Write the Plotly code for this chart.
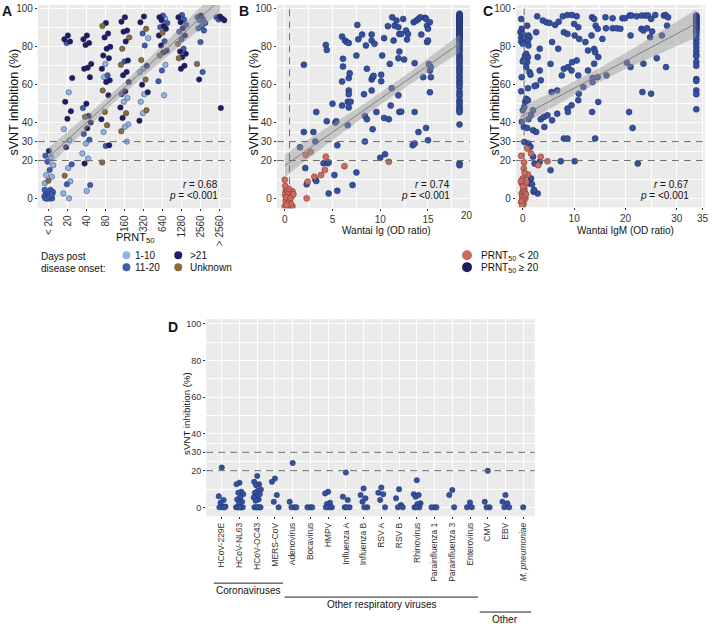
import numpy as np
import plotly.graph_objects as go

W, H = 712, 624

# ---------------- Panel A data ----------------
a_categories = ["< 20", "20", "40", "80", "160", "320", "640", "1280", "2560", "> 2560"]
a_values = [
    [25, 22.5, 21.6, 19.3, 17.5, 15, 12.3, 11.4, 9.3, 8, 4.5, 4, 3.5, 3, 2.5, 2, 1.5, 1, 0.5,
     0, 0, 0, 0, 0, 0, 3, 1, 0, 2, 0, 4.5, 0],
    [86, 84, 82.8, 82, 63.5, 56, 51, 46, 42, 36.5, 30.7, 27, 18, 16, 12, 9, 7.4, 2.6, 0],
    [86, 84, 82, 81, 71, 69, 68.4, 64, 50, 47.7, 43.5, 43, 40, 37, 34, 31, 29, 23.7, 21, 18.4, 7, 3.9],
    [92.6, 91, 87, 85, 80, 79, 75.4, 74, 71, 68.4, 65, 64, 62.3, 61.4, 57, 54.4, 45.6, 41.8, 38.6,
     35, 28, 27.7, 19],
    [95.6, 93.3, 88.6, 88, 85, 82.8, 79, 72.8, 72.3, 70.5, 66.7, 65, 61.4, 56.5, 55, 53, 51, 48, 45,
     42.5, 39, 37.7, 35.4, 30],
    [96, 93, 89.5, 87, 84.6, 80.7, 73, 70, 68.4, 66.7, 62.8, 60, 56, 55, 51, 46.5, 45, 41],
    [96.5, 95.6, 95, 94, 92.6, 91, 90.4, 89.5, 87.4, 86, 83, 80.7, 78, 77, 75.4, 70.5, 67.5, 61.8, 54.4],
    [96.8, 95.6, 94.4, 93, 91.6, 89.8, 88, 86, 84, 81.6, 79, 77.5, 76.3, 74.6, 74, 70, 68.4],
    [96.5, 95.6, 94.7, 94, 92.6, 91, 89.8, 88.6, 82.5, 71, 66.7, 62.8],
    [96, 95.6, 95, 94.4, 94, 47.7],
]
# L = 1-10, M = 11-20, N = >21, U = Unknown
a_groups = [
    "NMLMLMLLULMLMLMLMMLMMLMLMLMLMLML",
    "NNNMNLNNNLLNMLULMLL",
    "NNNNNNNNNMNUNNMMLLLNML",
    "NUNNNNNNLNMLNNUNUNULNMU",
    "NNNNUNUNMUNNNNMLLNUNLLUL",
    "NNUMLMUNLLUNNLLULN",
    "MNLNMNMNUNMNNNULMML",
    "MNMNMNMNMUMNNNUNN",
    "NMMMMMMMMUMN",
    "NMNMNN",
]
a_group_names = {"L": "1-10", "M": "11-20", "N": ">21", "U": "Unknown"}
a_group_colors = {"L": "#8DB6E8", "M": "#3D5EB2", "N": "#1F1C66", "U": "#8C6B3D"}

# ---------------- Panel B data ----------------
b_red_x = [0, 0.1, 0.5, 0.8, 0.05, 0.3, 0.6, 0.1, 0.5, 0, 0.8, 2.3, 2.2, 2.7, 2.4, 3.1, 3.8, 4.2,
           4.3, 6.25, 10.9, 0.2, 0.4, 0.7, 0.15, 0.35, 0.65, 0.2, 0.45, 0.6, 0.05, 0.9]
b_red_y = [9.8, 3.7, 3.7, 3.7, 1.9, 1.0, 1.9, -1.2, -1.0, -4.2, -4.2, 0, 22.8, 24.6, 8.8, 11.4,
           12.3, 15, 22, 17, 19.3, 4.5, 2.5, 1, 0.5, -2.5, -3, -3.5, 5, 0.2, 6.5, 2.2]
b_blue_x = [0.5, 0.5, 2.0, 2.0, 1.6, 2.15, 2.3, 3.0, 3.2, 3.3, 3.2, 3.3, 4.3, 4.4, 4.4, 4.06, 4.5,
            4.6, 4.6, 5.0, 5.3, 5.4, 5.5, 5.2, 5.5, 6.0, 6.0, 6.1, 6.1, 6.0, 6.3, 6.5, 6.7, 6.7,
            6.7, 6.7, 6.7, 6.6, 6.6, 6.9, 6.8, 7.1, 7.5, 7.6, 7.5, 7.7, 8.1, 8.3, 8.5, 8.6, 8.4,
            8.6, 8.4, 9.1, 9.1, 9.4, 9.1, 9.2, 9.3, 9.1, 9.2, 9.6, 10.1, 10.1, 10.2, 10.4, 10.4,
            10.0, 10.5, 10.8, 10.9, 11.0, 11.1, 11.2, 11.25, 11.4, 11.5, 11.7, 11.9, 11.9, 12.0,
            12.0, 12.2, 11.9, 12.0, 12.2, 12.4, 12.5, 12.7, 12.9, 12.8, 13.4, 13.6, 13.6, 13.6,
            13.5, 13.8, 14.0, 14.0, 14.2, 14.3, 14.7, 14.5, 14.8, 14.9, 15.0, 15.0, 15.1, 15.2,
            15.2, 14.8, 14.9, 15.2, 15.0, 15.3, 15.3]
b_blue_y = [-4.5, -1, 70.5, 35, 27, 16, 7.4, 35, 30, 45.6, 10, 9.2, 81, 78.4, 40.7, 18.6, 18.6,
            19, 2.6, 50, 40, 40.7, 28, 12.3, 4, 49, 61.7, 69.6, 73.7, 85.4, 83.3, 82.5, 82, 63.5,
            57, 55, 48, 51, 38.6, 51, 66, 7, 13.7, 91.6, 75.4, 84, 86.5, 55, 80.7, 68.4, 43.5,
            41.8, 30, 86.5, 83.3, 81.6, 62.8, 64, 64.7, 57, 36.5, 45.6, 61.8, 65.3, 75.4, 84.6,
            42.5, 21.4, 23.3, 90.9, 41.8, 71, 49, 58.2, 95.6, 83.3, 91.2, 93.9, 90.4, 74, 77.5,
            86.8, 86.8, 54.4, 45.6, 45.8, 94.7, 73.3, 88.6, 86.8, 83.9, 28, 29, 71.4, 45.6, 93,
            93.9, 35, 94.7, 95.6, 86.5, 95.3, 64, 37.2, 82.5, 30.7, 83.3, 71, 67.5, 56, 94.7,
            91.2, 93, 89.5, 69.3, 64]
b_cap_x = 18.3
b_cap_y = [97.5, 97, 96.5, 96, 95.5, 95, 94.5, 94, 93.5, 93, 92.5, 92, 91.5, 91, 90.5, 90, 89.5,
           89, 88.5, 88, 87.5, 87, 86.5, 86, 85.5, 85, 84.5, 84, 83, 82, 81, 80, 79, 78, 77, 75.5,
           74.5, 73.5, 72.5, 71.5, 70, 69, 68, 67, 66, 64.5, 63.5, 62, 61, 60, 58.5, 56.5, 55,
           54, 52, 51, 50, 48.5, 47.5, 46.5, 45.5, 39, 18.5, 17.5]

# ---------------- Panel C data ----------------
c_red_x = [-0.3, 0.2, 0, -0.2, 0.3, 0.1, -0.2, 0.4, 0, 0.2, -0.3, 0.5, 0.85, 1.6, 3.0, 0.8, 1.0,
           3.5, 4.8, 0.1, -0.1, 0.3, 0.15, -0.2, 0.4, 0.05, -0.35, 0.35, 0.6, -0.1, 0.25, 0.7]
c_red_y = [22.5, 15.8, 10.5, 7.9, 5.3, 3.9, 2.6, 1.8, 0.4, -1, -2, 0, 26.3, 23.7, 17.5, 12.3,
           12.6, 22, 19.6, 4.5, 1, 0.8, -3, -1.5, 3.2, 6.2, 9.2, 13.5, 2.1, -4, 19, 8.5]
c_blue_x = [-0.3, -0.2, -0.45, 0, -0.3, 0.2, -0.3, 0, 0.45, 0.2, 0, -0.2, -0.3, 0.45, 0, 0.3,
            -0.2, 0.2, 0.3, 0, 0.85, 1.1, 1.3, 1.0, 1.1, 0.65, 1.0, 0.85, 0.65, 1.3, 1.5, 1.0,
            0.65, 1.0, 1.6, 1.1, 0.85, 1.1, 1.5, 2.0, 2.3, 1.6, 1.3, 1.8, 2.1, 2.9, 2.8, 3.9, 4.6,
            2.6, 3.3, 2.9, 5.4, 3.3, 3.5, 2.6, 2.3, 2.0, 3.5, 4.1, 4.8, 4.2, 2.0, 2.6, 3.3, 5.4,
            2.2, 5.2, 6.3, 7.0, 7.8, 8.7, 8.0, 8.7, 5.7, 6.9, 5.6, 6.7, 6.7, 5.7, 8.0, 7.6, 8.7,
            8.0, 8.7, 7.4, 8.8, 9.6, 9.6, 10.5, 10.0, 10.8, 10.1, 11.0, 10.5, 9.5, 10.8, 10.9,
            10.8, 8.8, 9.5, 10.1, 13.5, 13.9, 14.2, 14.6, 13.4, 12.2, 12.7, 13.9, 14.1, 14.7,
            13.9, 12.7, 13.6, 13.6, 14.6, 11.8, 14.7, 13.5, 14.1, 16.1, 17.5, 19.4, 19.9, 20.8,
            21.2, 22.2, 23.2, 16.2, 17.5, 18.3, 19.0, 15.5, 21.0, 16.3, 20.3, 21.0, 20.7, 21.4,
            22.4, 23.9, 24.4, 25.8, 27.5, 27.8, 28.3, 25.0, 23.1, 23.5, 24.2, 25.2, 24.8, 27.1,
            28.1, 23.5, 26.1, 23.3, 25.0, 27.9]
c_blue_y = [94.7, 89.5, 87.7, 86.8, 85, 84.2, 82.8, 81.6, 75.4, 73.3, 72.3, 64, 56.5, 51, 46.5,
            48.2, 40.4, 37.7, 29.8, 0, 91.2, 86, 85, 83.3, 80.7, 76.3, 74.6, 72, 69.3, 66.7, 65.3,
            58.2, 52.6, 51.8, 43.9, 41.8, 37.2, 29, 27.2, 22, 18.4, 10.5, 7.9, 7.4, 3.5, 2.6,
            96.1, 93.9, 93, 87.7, 79, 74.6, 71, 67.5, 62.3, 59.6, 59.3, 46.5, 41.8, 43, 43.9,
            37.7, 36, 35.1, 19.3, 14.9, 4.4, 92.6, 91.6, 93.3, 96.1, 96.8, 87.7, 86.8, 82.5, 79,
            56.1, 57, 44.7, 41.2, 68.4, 64.9, 47.4, 31.6, 31.6, 19.6, 69.3, 71.9, 96.8, 96.1,
            92.1, 90.4, 86, 84.2, 72.8, 67.5, 64.9, 55.3, 51.8, 45.6, 49.1, 19.6, 95.6, 94.7,
            91.2, 89.5, 86, 82.5, 78.1, 78.9, 77.2, 74.6, 71.1, 67.5, 63.5, 61.4, 64, 58.8, 50.9,
            45.6, 31.6, 95.6, 95.1, 95.1, 95.1, 96.5, 96.5, 96.1, 96.5, 89.8, 89.8, 89.8, 89.5,
            84.2, 86, 64.9, 71.6, 69.3, 45.6, 37.2, 18.4, 96.5, 96.5, 96.8, 96.5, 96.8, 95.6,
            94.7, 89.5, 88.6, 89.8, 88.1, 85.1, 86, 91.2, 71.1, 74, 56.1, 55.3, 69.3]
c_cap_x = 33.8
c_cap_y = [96.5, 96, 95.5, 95, 94.5, 94, 93.5, 93, 92.5, 92, 91.5, 91, 90.5, 90, 89.5, 89, 88,
           87, 86, 84, 82, 80, 78, 76, 75, 72, 70, 63, 62, 57, 55, 47]

# ---------------- Panel D data ----------------
d_categories = ["HCoV-229E", "HCoV-NL63", "HCoV-OC43", "MERS-CoV", "Adenovirus", "Bocavirus",
                "HMPV", "Influenza A", "Influenza B", "RSV A", "RSV B", "Rhinovirus",
                "Parainfluenza 1", "Parainfluenza 3", "Enterovirus", "CMV", "EBV",
                "<i>M. pneumoniae</i>"]
d_values = [
    [21.7, 6.1, 4.0, 2.5, 0.4, 0, 0, 0],
    [13.4, 12.6, 8.5, 8.0, 7.2, 5.4, 4.3, 3.0, 1.8, 0, 0, 0, 0, 0],
    [17.1, 13.9, 12.6, 12.1, 9.7, 9.0, 8.0, 7.2, 6.1, 5.4, 4.3, 3.6, 0, 0, 0, 0, 0],
    [15.7, 13.9, 6.7, 3.0, 0],
    [24.2, 3.0, 0, 0, 0],
    [0, 0, 0],
    [8.5, 7.6, 2.5, 1.8, 0, 0, 0],
    [19.0, 5.8, 4.0, 0, 0, 0],
    [10.3, 6.7, 4.9, 3.0, 0, 0],
    [10.8, 8.0, 7.2, 4.0, 0],
    [9.9, 4.9, 1.3, 0, 0],
    [14.8, 7.2, 6.7, 5.8, 2.2, 1.8, 0, 0, 0],
    [0, 0, 0],
    [9.4, 6.7, 0],
    [2.7, 0, 0],
    [19.9, 3.0, 0, 0],
    [6.7, 3.0, 2.2, 0, 0],
    [0],
]
d_groups = [("Coronaviruses", 0, 3), ("Other respiratory viruses", 4, 14), ("Other", 15, 17)]

stats_text = [("0.68", "<0.001"), ("0.74", "<0.001"), ("0.67", "<0.001")]

RED = "#CF6A5E"
BLUE = "#3450A0"
NAVY = "#1F1C66"
BG = "#EBEBEB"
TXT = "#333333"
FONT = "Liberation Sans, Arial, sans-serif"


# ---------------- helpers ----------------
def fx(p):
    return p / W


def fy(p):
    return 1 - p / H


def jitter(n, w):
    return [((k * 0.618034 + 0.5) % 1 - 0.5) * 2 * w for k in range(n)]


def lm_band(x, y, xs):
    x = np.asarray(x, float)
    y = np.asarray(y, float)
    n = len(x)
    b, a = np.polyfit(x, y, 1)
    res = y - (a + b * x)
    s = np.sqrt(np.sum(res ** 2) / (n - 2))
    sxx = np.sum((x - x.mean()) ** 2)
    se = s * np.sqrt(1 / n + (xs - x.mean()) ** 2 / sxx)
    yh = a + b * xs
    return yh, yh - 1.97 * se, yh + 1.97 * se


def add_fit(fig, x, y, xa, ya):
    xs = np.linspace(min(x), max(x), 120)
    yh, lo, hi = lm_band(x, y, xs)
    fig.add_trace(go.Scatter(x=np.concatenate([xs, xs[::-1]]), y=np.concatenate([hi, lo[::-1]]),
                             fill="toself", fillcolor="rgba(150,150,150,0.45)", line=dict(width=0),
                             mode="lines", hoverinfo="skip", showlegend=False, xaxis=xa, yaxis=ya))
    fig.add_trace(go.Scatter(x=xs, y=yh, mode="lines", line=dict(color="#808080", width=1),
                             hoverinfo="skip", showlegend=False, xaxis=xa, yaxis=ya))


fig = go.Figure()

# ---- Panel A points ----
ax_x, ax_y = [], []
for gkey in "LMNU":
    xs, ys = [], []
    for i, (vals, grp) in enumerate(zip(a_values, a_groups)):
        offs = jitter(len(vals), 0.24)
        for v, g, o in zip(vals, grp, offs):
            if g == gkey:
                xs.append(i + o)
                ys.append(v)
    fig.add_trace(go.Scatter(x=xs, y=ys, mode="markers", name=a_group_names[gkey],
                             marker=dict(size=5.5, color=a_group_colors[gkey],
                                         line=dict(width=0.4, color="#222244")),
                             showlegend=False, xaxis="x", yaxis="y"))
for i, vals in enumerate(a_values):
    ax_x += [i] * len(vals)
    ax_y += vals
add_fit(fig, ax_x, ax_y, "x", "y")

# ---- Panel B points ----
bx_blue = b_blue_x + [b_cap_x] * len(b_cap_y)
by_blue = b_blue_y + b_cap_y
fig.add_trace(go.Scatter(x=bx_blue, y=by_blue, mode="markers",
                         marker=dict(size=6, color=BLUE, line=dict(width=0.5, color="#1a2a60")),
                         showlegend=False, xaxis="x2", yaxis="y2"))
fig.add_trace(go.Scatter(x=b_red_x, y=b_red_y, mode="markers",
                         marker=dict(size=6, color=RED, line=dict(width=0.5, color="#7a3028")),
                         showlegend=False, xaxis="x2", yaxis="y2"))
add_fit(fig, b_red_x + bx_blue, b_red_y + by_blue, "x2", "y2")

# ---- Panel C points ----
cx_blue = c_blue_x + [c_cap_x] * len(c_cap_y)
cy_blue = c_blue_y + c_cap_y
fig.add_trace(go.Scatter(x=cx_blue, y=cy_blue, mode="markers",
                         marker=dict(size=6, color=BLUE, line=dict(width=0.5, color="#1a2a60")),
                         showlegend=False, xaxis="x3", yaxis="y3"))
fig.add_trace(go.Scatter(x=c_red_x, y=c_red_y, mode="markers",
                         marker=dict(size=6, color=RED, line=dict(width=0.5, color="#7a3028")),
                         showlegend=False, xaxis="x3", yaxis="y3"))
add_fit(fig, c_red_x + cx_blue, c_red_y + cy_blue, "x3", "y3")

# ---- Panel D points ----
dx, dy = [], []
for i, vals in enumerate(d_values):
    for v, o in zip(vals, jitter(len(vals), 0.22)):
        dx.append(i + o)
        dy.append(v)
fig.add_trace(go.Scatter(x=dx, y=dy, mode="markers",
                         marker=dict(size=5.5, color=BLUE, line=dict(width=0.4, color="#1a2a60")),
                         showlegend=False, xaxis="x4", yaxis="y4"))

# ---------------- axes ----------------
yt = [0, 20, 30, 40, 60, 80, 100]
ymin = [10, 25, 35, 50, 70, 90]


def yaxis(dom, rng, anchor, size=10):
    return dict(domain=dom, range=rng, anchor=anchor, tickmode="array", tickvals=yt,
                ticks="outside", ticklen=2, tickcolor=TXT, tickwidth=0.8,
                tickfont=dict(size=size, color=TXT, family=FONT), showgrid=True,
                gridcolor="white", gridwidth=1, zeroline=False, showline=False,
                minor=dict(tickmode="array", tickvals=ymin, showgrid=True, gridcolor="white",
                           gridwidth=0.5, ticks=""))


def xaxis(dom, rng, anchor, tickvals, ticktext=None, angle=0, size=10, minor=None):
    d = dict(domain=dom, range=rng, anchor=anchor, tickmode="array", tickvals=tickvals,
             ticks="outside", ticklen=2, tickcolor=TXT, tickwidth=0.8, tickangle=angle,
             tickfont=dict(size=size, color=TXT, family=FONT), showgrid=True,
             gridcolor="white", gridwidth=1, zeroline=False, showline=False)
    if ticktext is not None:
        d["ticktext"] = ticktext
    if minor is not None:
        d["minor"] = dict(tickmode="array", tickvals=minor, showgrid=True, gridcolor="white",
                          gridwidth=0.5, ticks="")
    return d


yABC = [fy(207), fy(3)]
fig.update_layout(
    xaxis=xaxis([fx(38), fx(232)], [-0.58, 9.58], "y", list(range(10)), a_categories, angle=-90),
    yaxis=yaxis(yABC, [-5.26, 102.1], "x"),
    xaxis2=xaxis([fx(278), fx(472)], [-0.83, 19.4], "y2", [0, 5, 10, 15],
                 minor=[2.5, 7.5, 12.5, 17.5]),
    yaxis2=yaxis(yABC, [-5.26, 102.1], "x2"),
    xaxis3=xaxis([fx(518), fx(708)], [-1.36, 35.5], "y3", [0, 10, 20, 30, 35],
                 minor=[5, 15, 25]),
    yaxis3=yaxis([fy(206), fy(3)], [-4.74, 102.1], "x3"),
    xaxis4=xaxis([fx(207), fx(537)], [-0.88, 17.65], "y4", list(range(18)), d_categories,
                 angle=-90, size=8.5),
    yaxis4=yaxis([fy(516), fy(318)], [-4.9, 102.7], "x4", size=9),
)

shapes = []
for xa, ya in [("x", "y"), ("x2", "y2"), ("x3", "y3"), ("x4", "y4")]:
    shapes.append(dict(type="rect", xref=xa + " domain", yref=ya + " domain", x0=0, x1=1, y0=0,
                       y1=1, fillcolor=BG, line=dict(width=0), layer="below"))
    for yv in (20, 30):
        shapes.append(dict(type="line", xref=xa + " domain", yref=ya, x0=0, x1=1, y0=yv, y1=yv,
                           line=dict(color="#6E6E6E", width=1, dash="7px,5px")))
for xa, ya, xv in [("x2", "y2", 0.5), ("x3", "y3", 0.25)]:
    shapes.append(dict(type="line", xref=xa, yref=ya + " domain", x0=xv, x1=xv, y0=0, y1=1,
                       line=dict(color="#6E6E6E", width=1, dash="7px,5px")))

annotations = []


def text(x, y, s, size=10, xanchor="center", yanchor="middle", angle=0, color="#111111",
         bold=False):
    if bold:
        s = "<b>" + s + "</b>"
    annotations.append(dict(x=fx(x), y=fy(y), xref="paper", yref="paper", text=s,
                            showarrow=False, xanchor=xanchor, yanchor=yanchor, textangle=angle,
                            font=dict(size=size, color=color, family=FONT)))


# panel letters
text(7, 9, "A", 14, bold=True)
text(245, 9, "B", 14, bold=True)
text(490, 9, "C", 14, bold=True)
text(174, 326, "D", 14, bold=True)

# axis titles
for xp in (14, 255, 497):
    text(xp, 100, "sVNT inhibition (%)", 12.5, angle=-90)
text(187, 413, "sVNT inhibition (%)", 9.7, angle=-90)
text(136, 237, "PRNT<sub>50</sub>", 11)
text(388, 229, "Wantai Ig (OD ratio)", 10)
text(628, 229, "Wantai IgM (OD ratio)", 10)
text(469, 214, "20", 10, color=TXT)

# r / p
for xr, (rv, pv) in zip((221, 454, 694), stats_text):
    text(xr, 183, "<i>r</i> = " + rv, 10, xanchor="right")
    text(xr, 194, "<i>p</i> = " + pv, 10, xanchor="right")

# legend A
text(39, 255, "Days post", 10, xanchor="left")
text(39, 267, "disease onset:", 10, xanchor="left")
for (cx, cy, key, tx) in [(127, 254, "L", 134), (127, 266, "M", 134), (179, 254, "N", 189),
                          (179, 266, "U", 189)]:
    shapes.append(dict(type="circle", xref="paper", yref="paper", x0=fx(cx - 4), x1=fx(cx + 4),
                       y0=fy(cy + 4), y1=fy(cy - 4), fillcolor=a_group_colors[key],
                       line=dict(width=0)))
    text(tx, cy + 0.5, a_group_names[key], 10, xanchor="left")

# legend B/C
for (cy, col, lab) in [(254, RED, "PRNT<sub>50</sub> < 20"), (266, NAVY, "PRNT<sub>50</sub> ≥ 20")]:
    shapes.append(dict(type="circle", xref="paper", yref="paper", x0=fx(464), x1=fx(474),
                       y0=fy(cy + 5), y1=fy(cy - 5), fillcolor=col, line=dict(width=0)))
    text(481, cy + 0.5, lab, 10, xanchor="left")

# panel D group brackets
d_x0, d_x1, d_r0, d_r1 = 207, 537, -0.88, 17.65


def d_px(v):
    return d_x0 + (v - d_r0) / (d_r1 - d_r0) * (d_x1 - d_x0)


for (lab, i0, i1), ly, ty in zip(d_groups, (583, 597, 612), (590, 604, 619)):
    x0 = d_px(i0 - 0.45)
    x1 = d_px(i1 + 0.45)
    shapes.append(dict(type="line", xref="paper", yref="paper", x0=fx(x0), x1=fx(x1), y0=fy(ly),
                       y1=fy(ly), line=dict(color="#222222", width=1)))
    text((x0 + x1) / 2, ty, lab, 10)

fig.update_layout(
    width=W, height=H, margin=dict(l=0, r=0, t=0, b=0), paper_bgcolor="white",
    plot_bgcolor="rgba(0,0,0,0)", shapes=shapes, annotations=annotations, showlegend=False,
    font=dict(family=FONT, color=TXT),
)

fig.write_html("out.html", config={"displayModeBar": False},
               post_script="document.body.style.margin='0px';")
